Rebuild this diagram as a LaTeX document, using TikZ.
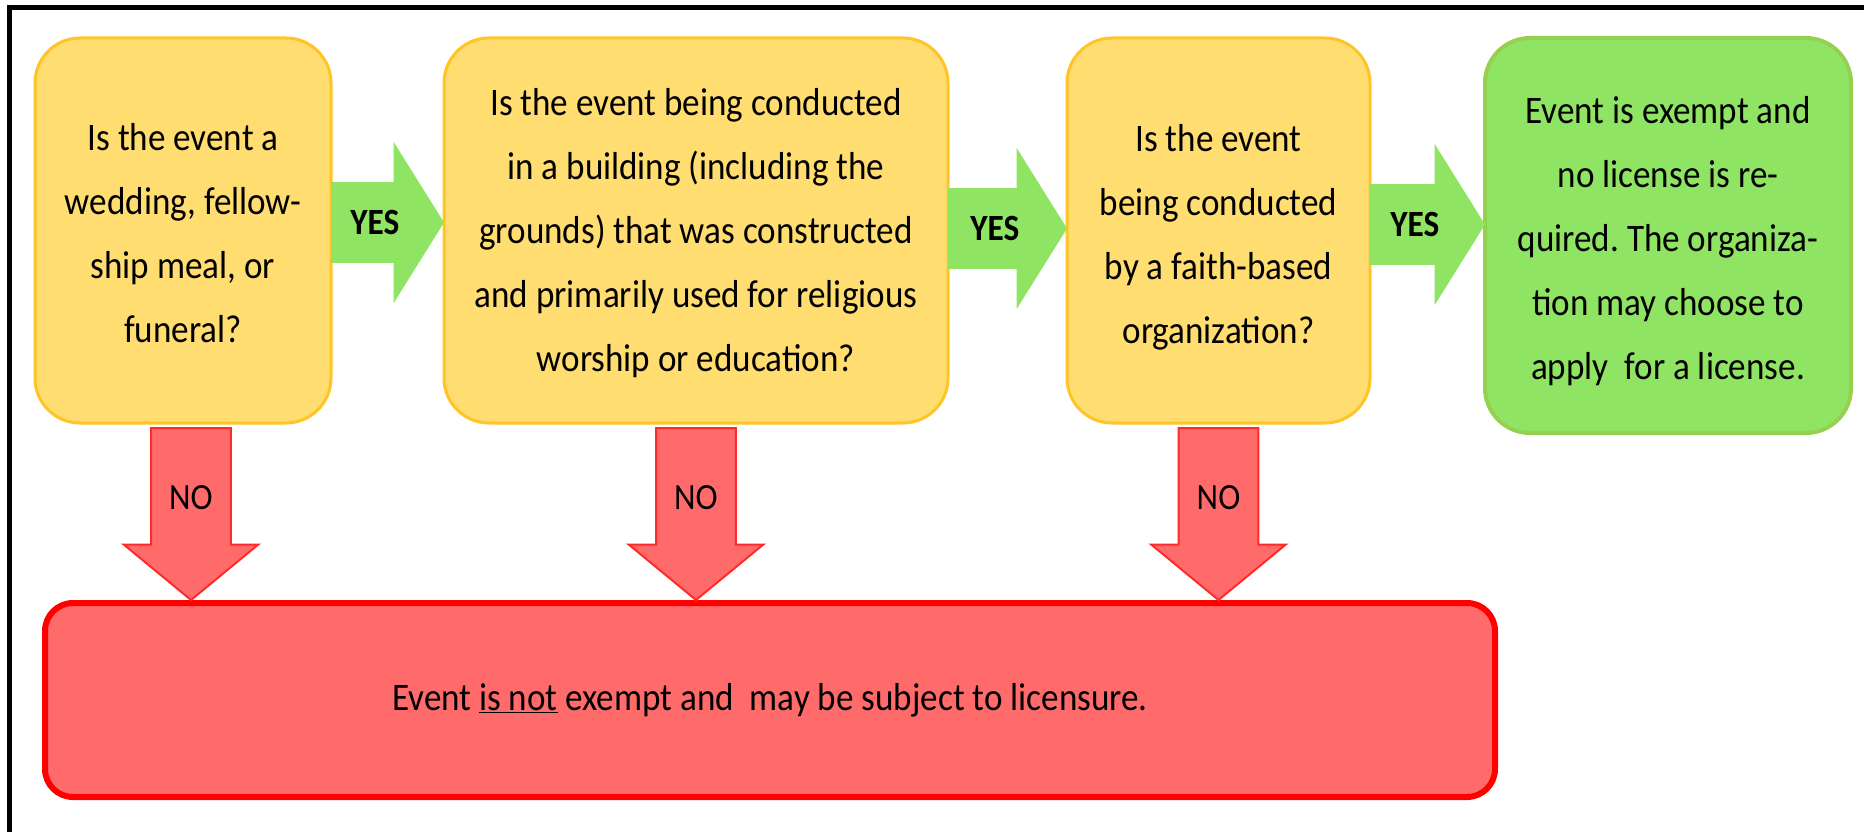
\documentclass[tikz,border=0pt]{standalone}
\usepackage{fontspec}
\setmainfont{Carlito}[FakeStretch=0.9]
\usetikzlibrary{positioning,shapes.arrows}
\frenchspacing

\definecolor{qfill}{HTML}{FFDD71}
\definecolor{qline}{HTML}{FFC425}
\definecolor{gfill}{HTML}{90E463}
\definecolor{gline}{HTML}{96D050}
\definecolor{rfill}{HTML}{FF6B6B}
\definecolor{rline}{HTML}{FF0000}
\definecolor{rarrow}{HTML}{FF2B2B}

\begin{document}
\begin{tikzpicture}[
    x=1pt, y=-1pt,
    question/.style={
        draw=qline,
        fill=qfill,
        line width=3pt,
        rounded corners=45pt,
        align=center,
        inner sep=0pt,
        outer sep=0pt,
        minimum height=385pt,
        font=\fontsize{39}{64}\selectfont
    },
    answer/.style={question, draw=gline, fill=gfill, line width=4pt, minimum height=395pt},
    yesarrow/.style={
        single arrow,
        fill=gfill,
        minimum width=160pt,
        single arrow head extend=40pt,
        single arrow tip angle=116,
        inner xsep=0pt,
        inner ysep=28pt,
        outer sep=0pt,
        anchor=tail,
        font=\bfseries\fontsize{37}{40}\selectfont
    },
    noarrow/.style={
        single arrow,
        shape border rotate=270,
        draw=rarrow,
        fill=rfill,
        line width=2pt,
        minimum width=133pt,
        minimum height=172pt,
        single arrow head extend=27.5pt,
        single arrow tip angle=101,
        inner xsep=17pt,
        inner ysep=0pt,
        outer sep=0pt,
        anchor=tail,
        font=\fontsize{37}{40}\selectfont
    },
    nobox/.style={
        draw=rline,
        fill=rfill,
        line width=6pt,
        rounded corners=28pt,
        minimum width=1450pt,
        minimum height=194pt,
        inner sep=0pt,
        outer sep=0pt,
        font=\fontsize{39}{64}\selectfont
    }
]
\useasboundingbox (0,0) rectangle (1864,832);

% frame
\draw[line width=5pt] (9.5,832) -- (9.5,7.5) -- (1864,7.5);

\node[question, minimum width=296pt] (q1) at (183,230.5) {\rule{0pt}{33pt}Is the event a\\wedding, fellow-\\ship meal, or\\funeral?};
\node[question, minimum width=504pt, right=113pt of q1] (q2) {\rule{0pt}{33pt}Is the event being conducted\\in a building (including the\\grounds) that was constructed\\and primarily used for religious\\worship or education?};
\node[question, minimum width=303pt, right=119pt of q2] (q3) {\rule{0pt}{41pt}Is the event\\being conducted\\by a faith-based\\organization?};
\node[answer, minimum width=366pt, right=115pt of q3, yshift=-5pt] (exempt) {\rule{0pt}{39pt}Event is exempt and\\no license is re-\\quired. The organiza-\\tion may choose to\\apply~ for a license.};

\node[nobox, below=180pt of q2, xshift=74pt] (licensure) {Event \underline{is not} exempt and~ may be subject to licensure.};

% yes arrows
\node[yesarrow, minimum height=113pt] (yes1) at ([yshift=8pt]q1.east) {YES};
\node[yesarrow, minimum height=119pt] (yes2) at ([yshift=2pt]q2.east) {YES};
\node[yesarrow, minimum height=115pt] (yes3) at ([yshift=6pt]q3.east) {YES};

% no arrows
\node[noarrow] (no1) at ([xshift=8pt, yshift=-5pt]q1.south) {NO};
\node[noarrow] (no2) at ([yshift=-5pt]q2.south) {NO};
\node[noarrow] (no3) at ([yshift=-5pt]q3.south) {NO};
\end{tikzpicture}
\end{document}
